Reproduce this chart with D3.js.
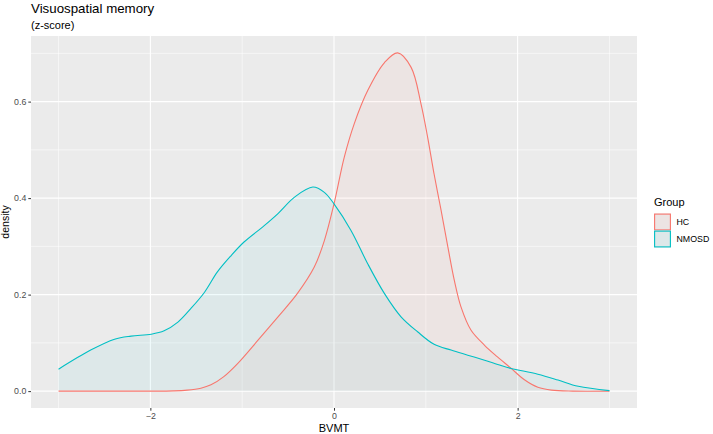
<!DOCTYPE html>
<html>
<head>
<meta charset="utf-8">
<script src="https://cdn.jsdelivr.net/npm/d3@7"></script>
<style>
  body { margin: 0; background: #fff; }
  svg { font-family: "Liberation Sans", Arial, sans-serif; }
</style>
</head>
<body>
<div id="chart"></div>
<script>
// values
const groups = ['HC', 'NMOSD'];
const groupColors = ['#F8766D', '#00BFC4'];

const hcX = [-3, -2, -1.75, -1.6, -1.45, -1.34, -1.2, -1.05, -0.83, -0.61, -0.4, -0.215, -0.105, 0, 0.112, 0.22, 0.367, 0.55, 0.694, 0.84, 0.948, 1.02, 1.09, 1.166, 1.24, 1.31, 1.384, 1.493, 1.64, 1.78, 1.93, 2.07, 2.22, 2.37, 2.6, 3];
const hcDensity = [0, 0, 0.0005, 0.002, 0.006, 0.013, 0.03, 0.057, 0.105, 0.154, 0.202, 0.257, 0.312, 0.388, 0.485, 0.554, 0.623, 0.681, 0.701, 0.671, 0.595, 0.526, 0.45, 0.375, 0.299, 0.23, 0.174, 0.126, 0.095, 0.071, 0.047, 0.024, 0.008, 0.002, 0, 0];

const nmosdX = [-3, -2.65, -2.39, -2.21, -1.99, -1.85, -1.7, -1.56, -1.41, -1.27, -1.12, -0.98, -0.76, -0.61, -0.43, -0.23, -0.105, 0, 0.185, 0.367, 0.55, 0.73, 0.91, 1.09, 1.275, 1.457, 1.64, 1.82, 1.93, 2.22, 2.44, 2.66, 3];
const nmosdDensity = [0.0455, 0.085, 0.1076, 0.114, 0.118, 0.125, 0.143, 0.171, 0.205, 0.247, 0.281, 0.309, 0.343, 0.368, 0.402, 0.423, 0.412, 0.388, 0.333, 0.264, 0.202, 0.154, 0.123, 0.097, 0.085, 0.0745, 0.064, 0.053, 0.047, 0.035, 0.023, 0.010, 0.001];

const xTicks = [-2, 0, 2];
const xMinor = [-3, -1, 1, 3];
const yTicks = [0, 0.2, 0.4, 0.6];
const yMinor = [0.1, 0.3, 0.5, 0.7];

const title = 'Visuospatial memory';
const subtitle = '(z-score)';
const xTitle = 'BVMT';
const yTitle = 'density';
const legendTitle = 'Group';

const W = 713, H = 434;
const panel = { left: 31, top: 36, right: 637, bottom: 408 };

const svg = d3.select('#chart').append('svg')
  .attr('width', W)
  .attr('height', H);

const x = d3.scaleLinear().domain([-3.3, 3.3]).range([panel.left, panel.right]);
const y = d3.scaleLinear().domain([-0.035, 0.736]).range([panel.bottom, panel.top]);

// panel background
svg.append('rect')
  .attr('x', panel.left).attr('y', panel.top)
  .attr('width', panel.right - panel.left).attr('height', panel.bottom - panel.top)
  .attr('fill', '#EBEBEB');

const grid = svg.append('g');
grid.selectAll('.xminor').data(xMinor).enter().append('line')
  .attr('x1', d => x(d)).attr('x2', d => x(d))
  .attr('y1', panel.top).attr('y2', panel.bottom)
  .attr('stroke', '#fff').attr('stroke-width', 0.55);
grid.selectAll('.yminor').data(yMinor).enter().append('line')
  .attr('y1', d => y(d)).attr('y2', d => y(d))
  .attr('x1', panel.left).attr('x2', panel.right)
  .attr('stroke', '#fff').attr('stroke-width', 0.55);
grid.selectAll('.xmajor').data(xTicks).enter().append('line')
  .attr('x1', d => x(d)).attr('x2', d => x(d))
  .attr('y1', panel.top).attr('y2', panel.bottom)
  .attr('stroke', '#fff').attr('stroke-width', 1.1);
grid.selectAll('.ymajor').data(yTicks).enter().append('line')
  .attr('y1', d => y(d)).attr('y2', d => y(d))
  .attr('x1', panel.left).attr('x2', panel.right)
  .attr('stroke', '#fff').attr('stroke-width', 1.1);

// density areas
const series = [
  { name: groups[0], color: groupColors[0], pts: hcX.map((v, i) => [v, hcDensity[i]]) },
  { name: groups[1], color: groupColors[1], pts: nmosdX.map((v, i) => [v, nmosdDensity[i]]) }
];

const curve = d3.curveCatmullRom.alpha(0.5);
const area = d3.area()
  .x(d => x(d[0])).y0(y(0)).y1(d => y(Math.max(0, d[1])))
  .curve(curve);
const line = d3.line()
  .x(d => x(d[0])).y(d => y(d[1]))
  .curve(curve);

series.forEach(s => {
  svg.append('path').datum(s.pts)
    .attr('d', area)
    .attr('fill', s.color).attr('fill-opacity', 0.06);
});
series.forEach(s => {
  svg.append('path').datum(s.pts)
    .attr('d', line)
    .attr('fill', 'none').attr('stroke', s.color).attr('stroke-width', 1.1);
});

// axes
const xAxis = svg.append('g')
  .attr('transform', `translate(0,${panel.bottom})`)
  .call(d3.axisBottom(x).tickValues(xTicks).tickSize(2.7).tickPadding(2).tickFormat(d3.format('d')));
const yAxis = svg.append('g')
  .attr('transform', `translate(${panel.left},0)`)
  .call(d3.axisLeft(y).tickValues(yTicks).tickSize(2.7).tickPadding(2).tickFormat(d3.format('.1f')));
[xAxis, yAxis].forEach(a => {
  a.select('.domain').remove();
  a.selectAll('.tick line').attr('stroke', '#333').attr('stroke-width', 1);
  a.selectAll('.tick text').attr('fill', '#4D4D4D').style('font-size', '8.8px')
    .style('font-family', '"Liberation Sans", Arial, sans-serif');
});

// titles
svg.append('text').attr('x', panel.left).attr('y', 13)
  .style('font-size', '13.3px').attr('fill', '#000').text(title);
svg.append('text').attr('x', panel.left).attr('y', 28.5)
  .style('font-size', '11px').attr('fill', '#000').text(subtitle);
svg.append('text').attr('x', (panel.left + panel.right) / 2).attr('y', 431.5)
  .attr('text-anchor', 'middle').style('font-size', '11px').attr('fill', '#000').text(xTitle);
svg.append('text')
  .attr('transform', `translate(9,${(panel.top + panel.bottom) / 2}) rotate(-90)`)
  .attr('text-anchor', 'middle').style('font-size', '10.5px').attr('fill', '#000').text(yTitle);

// legend
const legend = svg.append('g').attr('transform', 'translate(654,0)');
legend.append('text').attr('x', 0).attr('y', 206)
  .style('font-size', '11px').attr('fill', '#000').text(legendTitle);
series.forEach((s, i) => {
  const ky = 213.5 + i * 17;
  legend.append('rect').attr('x', 0).attr('y', ky).attr('width', 17).attr('height', 17)
    .attr('fill', '#EBEBEB');
  legend.append('rect').attr('x', 0.6).attr('y', ky + 0.6).attr('width', 15.8).attr('height', 15.8)
    .attr('fill', s.color).attr('fill-opacity', 0.06)
    .attr('stroke', s.color).attr('stroke-width', 1.1);
  legend.append('text').attr('x', 22.5).attr('y', ky + 11.5)
    .style('font-size', '8.8px').attr('fill', '#000').text(s.name);
});
</script>
</body>
</html>
